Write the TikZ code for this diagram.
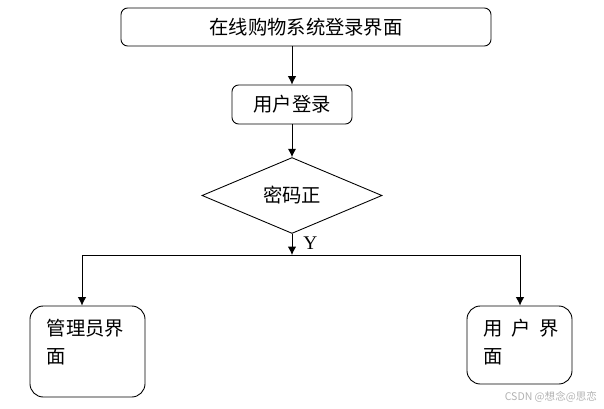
\documentclass[tikz,border=0pt]{standalone}
\usepackage{fontspec}
\setmainfont{Liberation Serif}
\newfontfamily\cjk{Noto Sans CJK SC}
\usetikzlibrary{arrows.meta,shapes.geometric}

\begin{document}
\begin{tikzpicture}[
    x=0.03cm, y=-0.03cm,
    component/.style={draw, line width=0.75pt, rounded corners=2mm, inner sep=0pt, font=\cjk\fontsize{16.5}{16.5}\selectfont},
    panel/.style={draw, line width=0.75pt, rounded corners=4mm, inner sep=0pt},
    decision/.style={draw, line width=0.75pt, diamond, inner sep=0pt, minimum width=5.4cm, minimum height=1.95cm, font=\cjk\fontsize{16.5}{16.5}\selectfont},
    paneltext/.style={anchor=north west, align=left, inner sep=0pt, font=\cjk\fontsize{16.5}{24}\selectfont},
    arrow/.style={-{Latex[length=2.5mm,width=2.5mm]}, line width=0.75pt},
    label/.style={font=\fontsize{16.5}{16.5}\selectfont}
]
\useasboundingbox (0,0) rectangle (604,408);

% Login flow
\node[component, minimum width=11.1cm, minimum height=1.14cm] (main) at (306, 27) {在线购物系统登录界面};
\node[component, minimum width=3.6cm, minimum height=1.17cm] (login) at (292, 104.5) {用户登录};
\node[decision] (check) at (292, 195.5) {密码正};

% Branch points
\coordinate (split) at (292, 255);
\coordinate (lsplit) at (82, 255);
\coordinate (rsplit) at (520, 255);

% Result pages
\node[panel, minimum width=3.45cm, minimum height=2.73cm] (admin) at (87.5, 351.5) {};
\node[paneltext] (admintext) at ([shift={(17,13)}]admin.north west) {管理员界\\面};
\node[panel, minimum width=3.15cm, minimum height=2.34cm] (user) at (519.5, 345) {};
\node[paneltext] (usertext) at ([shift={(17,13)}]user.north west) {用\hspace{0.45em}户\hspace{0.45em}界\\面};

% Arrows
\draw[arrow] (login |- main.south) -- (login.north);
\draw[arrow] (login.south) -- (check.north);
\draw[arrow] (check.south) -- (split) node[pos=0.45, right, xshift=6pt, label] {Y};
\draw[line width=0.75pt] (lsplit) -- (rsplit);
\draw[arrow] (lsplit) -- (lsplit |- admin.north);
\draw[arrow] (rsplit) -- (rsplit |- user.north);

% Watermark
\node[font=\cjk\fontsize{9}{9}\selectfont, text=black!30, anchor=east] (mark) at (601, 397) {CSDN @想念@思恋};

\end{tikzpicture}
\end{document}
